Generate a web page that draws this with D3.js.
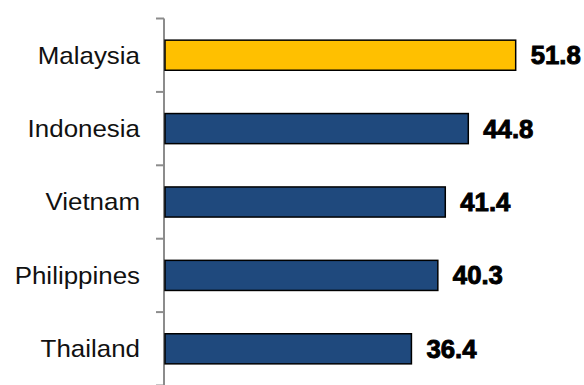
<!DOCTYPE html>
<html>
<head>
<meta charset="utf-8">
<script src="https://cdn.jsdelivr.net/npm/d3@7"></script>
<style>
  html, body { margin: 0; padding: 0; background: #fff; }
  svg { display: block; }
</style>
</head>
<body>
<svg id="chart" width="584" height="385"></svg>
<script>
// Country values, top to bottom
const countries = ["Malaysia", "Indonesia", "Vietnam", "Philippines", "Thailand"];
const values = [51.8, 44.8, 41.4, 40.3, 36.4];
const highlight = ["Malaysia"];

const W = 584, H = 385;
const margin = { top: 18.5, left: 165 };

const svg = d3.select("#chart");

const x = d3.scaleLinear().domain([0, 60]).range([margin.left, margin.left + 6.77 * 60]);
const y = d3.scaleBand()
  .domain(countries)
  .range([margin.top, margin.top + 73.4 * countries.length])
  .paddingInner(0.59)
  .paddingOuter(0.295);

const rows = countries.map((c, i) => ({ country: c, value: values[i] }));

// category axis: vertical line with ticks on the band boundaries
const axisX = margin.left - 1;
const step = y.step();
const y0 = y.range()[0];
const g = svg.append("g");
g.append("line")
  .attr("x1", axisX).attr("x2", axisX)
  .attr("y1", y0).attr("y2", H)
  .attr("stroke", "#8c8c8c").attr("stroke-width", 2);
g.selectAll("line.tick")
  .data(d3.range(countries.length + 1))
  .join("line")
  .attr("class", "tick")
  .attr("x1", axisX - 8).attr("x2", axisX)
  .attr("y1", i => y0 + i * step).attr("y2", i => y0 + i * step)
  .attr("stroke", "#8c8c8c").attr("stroke-width", 2);

// category labels (slightly wide lettering)
svg.selectAll("text.cat")
  .data(rows)
  .join("text")
  .attr("class", "cat")
  .attr("transform", d => `translate(${axisX - 24},${y(d.country) + y.bandwidth() / 2}) scale(1.08,1)`)
  .attr("dy", "0.35em")
  .attr("text-anchor", "end")
  .attr("font-family", "Liberation Sans, Arial, sans-serif")
  .attr("font-size", 24)
  .attr("fill", "#111")
  .text(d => d.country);

// bars
svg.selectAll("rect.bar")
  .data(rows)
  .join("rect")
  .attr("class", "bar")
  .attr("x", x(0))
  .attr("y", d => y(d.country))
  .attr("width", d => x(d.value) - x(0))
  .attr("height", y.bandwidth())
  .attr("fill", d => highlight.includes(d.country) ? "#FFC000" : "#1F497D")
  .attr("stroke", "#000")
  .attr("stroke-width", 1.5);

// value labels
svg.selectAll("text.val")
  .data(rows)
  .join("text")
  .attr("class", "val")
  .attr("transform", d => `translate(${x(d.value) + 15},${y(d.country) + y.bandwidth() / 2}) scale(1.03,1)`)
  .attr("dy", "0.36em")
  .attr("font-family", "Liberation Sans, Arial, sans-serif")
  .attr("font-size", 25)
  .attr("font-weight", "bold")
  .attr("fill", "#000")
  .attr("stroke", "#000")
  .attr("stroke-width", 0.9)
  .text(d => d.value.toFixed(1));
</script>
</body>
</html>
